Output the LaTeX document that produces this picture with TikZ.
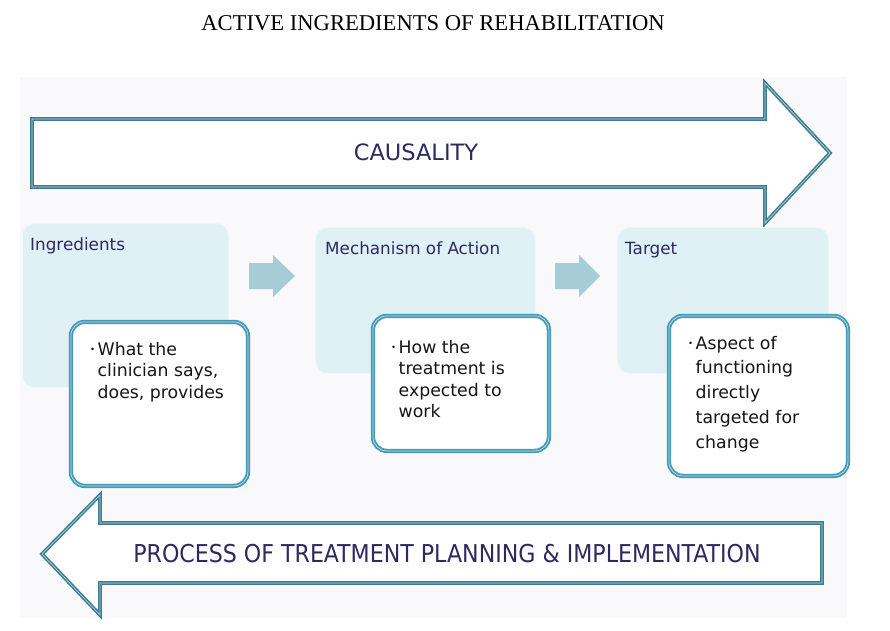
\documentclass[tikz,border=0pt]{standalone}
\usepackage{fontspec}
\setmainfont{Liberation Serif}
\newfontfamily\sansf{DejaVu Sans}
\newfontfamily\condf{DejaVu Sans Condensed}
\definecolor{navy}{HTML}{2D2A5E}
\definecolor{arrdark}{HTML}{3F7B90}
\definecolor{arrlight}{HTML}{A9D3DF}
\definecolor{detdark}{HTML}{4499B6}
\definecolor{detlight}{HTML}{BFE0EA}
\definecolor{catfill}{HTML}{E0F1F6}
\definecolor{smallarr}{HTML}{A6CCD8}
\definecolor{panel}{HTML}{F9F9FB}
\definecolor{bodytext}{HTML}{151515}
\tikzset{
  bigarrow/.style={draw=arrdark, line width=1.5pt, double=arrlight, double distance=0.7pt, fill=white, line join=miter},
  catbox/.style={rounded corners=12pt, fill=catfill, draw=catfill!60!white, line width=1pt, inner sep=0pt, anchor=north west},
  detbox/.style={rounded corners=14pt, draw=detdark, line width=1.8pt, double=detlight, double distance=0.7pt, fill=white, inner sep=0pt, anchor=north west},
  smallarrow/.style={fill=smallarr, draw=none},
  cattitle/.style={font=\sansf\fontsize{16.8}{20}\selectfont, text=navy, inner sep=0pt, anchor=base west},
  bigtext/.style={text=navy, inner sep=0pt, anchor=base},
  dettext/.style={font=\sansf\fontsize{17.3}{21.5}\selectfont, text=bodytext, inner sep=0pt, anchor=base west},
}
\newcommand{\bul}{\raisebox{2.3pt}{\fontsize{8.5}{9}\selectfont •}}
\begin{document}
\begin{tikzpicture}[x=1pt,y=-1pt]
\useasboundingbox (0,0) rectangle (890,630);
\fill[white] (0,0) rectangle (890,630);
% title
\node[inner sep=0pt, anchor=base, font=\fontsize{22.6}{26}\selectfont] (title) at (433,30) {ACTIVE INGREDIENTS OF REHABILITATION};
% panel
\fill[panel] (20,77) rectangle (847,618);
% top arrow
\draw[bigarrow] (32,119) -- (765,119) -- (765,83) -- (830,153) -- (765,223) -- (765,187) -- (32,187) -- cycle;
\node[bigtext, font=\sansf\fontsize{22.5}{27}\selectfont] (caus) at (416,160) {CAUSALITY};
% bottom arrow
\draw[bigarrow] (822,523) -- (100,523) -- (100,495) -- (42,554) -- (100,615) -- (100,583) -- (822,583) -- cycle;
\node[bigtext, font=\condf\fontsize{24.6}{29}\selectfont] (proc) at (447,562) {PROCESS OF TREATMENT PLANNING \& IMPLEMENTATION};
% category boxes
\node[catbox, minimum width=206pt, minimum height=164pt] (ing) at (22,223) {};
\node[catbox, minimum width=220pt, minimum height=146pt] (mech) at (315,227) {};
\node[catbox, minimum width=211pt, minimum height=146pt] (targ) at (617,227) {};
\node[cattitle] (ingt) at (30,250) {Ingredients};
\node[cattitle] (mecht) at (325,254) {Mechanism of Action};
\node[cattitle] (targt) at (625,254) {Target};
% small arrows
\fill[smallarrow] (249,263) -- (273,263) -- (273,255) -- (295,276) -- (273,297) -- (273,289) -- (249,289) -- cycle;
\fill[smallarrow] (555,263) -- (579,263) -- (579,255) -- (600,276) -- (579,297) -- (579,289) -- (555,289) -- cycle;
% detail boxes
\node[detbox, minimum width=177pt, minimum height=164pt] (d1) at (70,321) {};
\node[detbox, minimum width=176pt, minimum height=135pt] (d2) at (372,315) {};
\node[detbox, minimum width=179pt, minimum height=160pt] (d3) at (668,315) {};
\node[dettext] (t1) at (90,355) {\begin{tabular}[t]{@{}l@{\hspace{2.5pt}}l@{}}\bul&What the\\&clinician says,\\&does, provides\end{tabular}};
\node[dettext] (t2) at (391,353) {\begin{tabular}[t]{@{}l@{\hspace{2.5pt}}l@{}}\bul&How the\\&treatment is\\&expected to\\&work\end{tabular}};
\node[dettext, font=\sansf\fontsize{17.3}{24.8}\selectfont] (t3) at (688,349) {\begin{tabular}[t]{@{}l@{\hspace{2.5pt}}l@{}}\bul&Aspect of\\&functioning\\&directly\\&targeted for\\&change\end{tabular}};
\end{tikzpicture}
\end{document}
